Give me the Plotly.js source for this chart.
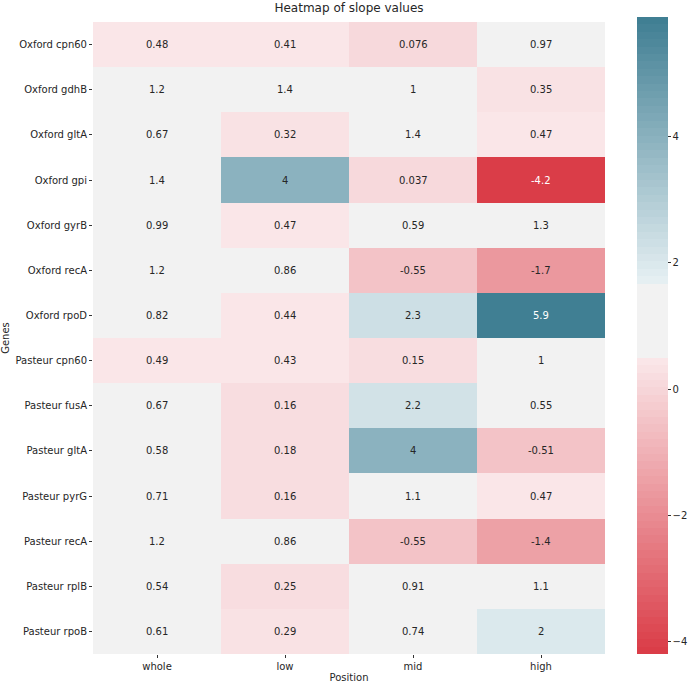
<!DOCTYPE html>
<html>
<head>
<meta charset="utf-8">
<script src="https://cdn.plot.ly/plotly-3.0.1.min.js"></script>
<style>html,body{margin:0;padding:0;background:#fff;}#chart{width:691px;height:685px;}</style>
</head>
<body>
<div id="chart"></div>
<script>
const genes = ["Oxford cpn60","Oxford gdhB","Oxford gltA","Oxford gpi","Oxford gyrB","Oxford recA","Oxford rpoD",
  "Pasteur cpn60","Pasteur fusA","Pasteur gltA","Pasteur pyrG","Pasteur recA","Pasteur rplB","Pasteur rpoB"];
const positions = ["whole","low","mid","high"];
const whole = [0.48,1.2,0.67,1.4,0.99,1.2,0.82,0.49,0.67,0.58,0.71,1.2,0.54,0.61];
const low   = [0.41,1.4,0.32,4,0.47,0.86,0.44,0.43,0.16,0.18,0.16,0.86,0.25,0.29];
const mid   = [0.076,1,1.4,0.037,0.59,-0.55,2.3,0.15,2.2,4,1.1,-0.55,0.91,0.74];
const high  = [0.97,0.35,0.47,-4.2,1.3,-1.7,5.9,1,0.55,-0.51,0.47,-1.4,1.1,2];
const colorbarTicks = [-4,-2,0,2,4];

const zmin = -4.2, zmax = 5.9;
const z = genes.map((g,i)=>[whole[i],low[i],mid[i],high[i]]);

// diverging palette (seaborn-like), stepped
const redEnd=[218,59,70], pinkEnd=[250,232,234], grey=[242,242,242], blueStart=[230,240,243], blueEnd=[62,125,146];
const greyLo=0.465, greyHi=0.584;
function lerp(a,b,f){return a.map((v,k)=>Math.round(v+(b[k]-v)*f));}
function colorAt(t){
  if(t<greyLo) return lerp(redEnd,pinkEnd,t/greyLo);
  if(t<=greyHi) return grey;
  return lerp(blueStart,blueEnd,(t-greyHi)/(1-greyHi));
}
const N=86;
const colorscale=[];
for(let i=0;i<N;i++){
  const c=colorAt((i+0.5)/N);
  const s='rgb('+c.join(',')+')';
  colorscale.push([i/N,s]);colorscale.push([(i+1)/N,s]);
}
function cellColor(v){
  let t=(v-zmin)/(zmax-zmin); t=Math.min(Math.max(t,0),0.9999);
  const i=Math.floor(t*N); return colorAt((i+0.5)/N);
}
function lum(c){
  const l=c.map(v=>{v/=255;return v<=0.03928?v/12.92:Math.pow((v+0.055)/1.055,2.4);});
  return 0.2126*l[0]+0.7152*l[1]+0.0722*l[2];
}

const annotations=[];
genes.forEach((g,i)=>{
  positions.forEach((p,j)=>{
    const v=z[i][j];
    annotations.push({x:p,y:g,xref:'x',yref:'y',text:String(v),showarrow:false,
      font:{family:'DejaVu Sans',size:10,color:lum(cellColor(v))<0.3?'#ffffff':'#262626'}});
  });
});

const trace={type:'heatmap',x:positions,y:genes,z:z,zmin:zmin,zmax:zmax,colorscale:colorscale,
  xgap:0,ygap:0,hoverinfo:'none',
  colorbar:{thickness:31,len:1.008,lenmode:'fraction',x:1.0625,xanchor:'left',xpad:0,ypad:0,y:0.504,yanchor:'middle',
    outlinewidth:0,tickvals:colorbarTicks,ticks:'outside',ticklen:3,tickcolor:'#333',
    tickfont:{family:'DejaVu Sans',size:10,color:'#262626'}}};

const layout={width:691,height:685,margin:{l:93,r:86,t:22,b:31,autoexpand:false},
  paper_bgcolor:'#fff',plot_bgcolor:'#fff',
  font:{family:'DejaVu Sans',size:10,color:'#262626'},
  title:{text:'Heatmap of slope values',x:0.5,xref:'paper',y:0.988,yanchor:'middle',font:{family:'DejaVu Sans',size:12,color:'#262626'}},
  xaxis:{type:'category',ticks:'outside',ticklen:3,tickcolor:'#333',showgrid:false,zeroline:false,showline:false,
    automargin:false,tickfont:{size:10},title:{text:'Position',standoff:2,font:{size:10}}},
  yaxis:{type:'category',autorange:'reversed',ticks:'outside',ticklen:3,tickcolor:'#333',showgrid:false,zeroline:false,showline:false,
    automargin:false,tickfont:{size:10},title:{text:'Genes',standoff:4,font:{size:10}}},
  annotations:annotations};

Plotly.newPlot('chart',[trace],layout,{displayModeBar:false,staticPlot:true});
</script>
</body>
</html>
